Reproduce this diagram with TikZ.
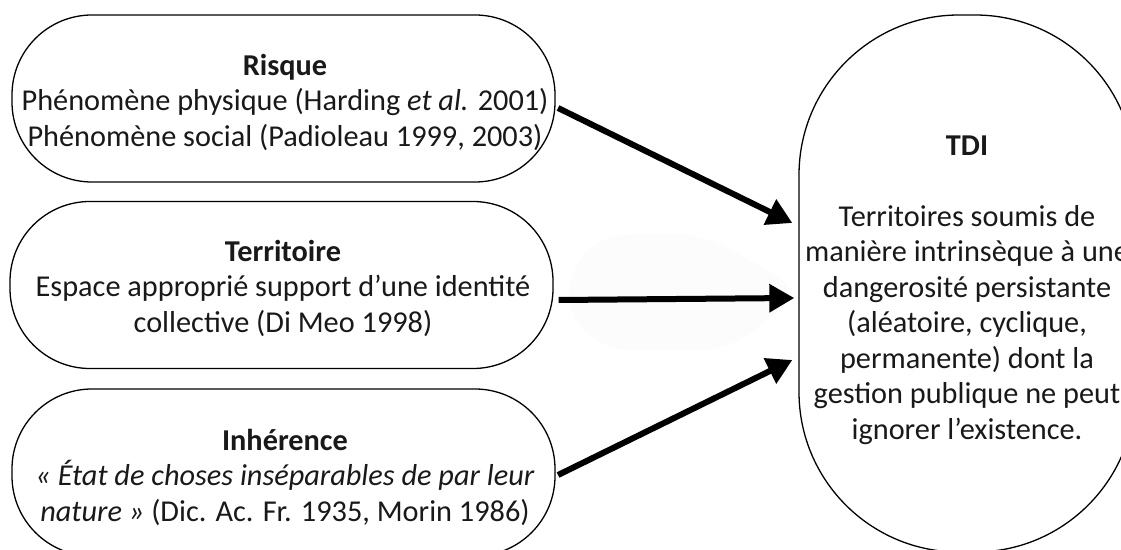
\documentclass[tikz,border=0pt]{standalone}
\usepackage{fontspec}
\setmainfont{Carlito}
\usetikzlibrary{arrows.meta,calc}
\begin{document}
\begin{tikzpicture}[x=1pt,y=1pt,
  pill/.style={draw=black, line width=1.3pt, minimum width=543pt, minimum height=167pt, rounded corners=80pt, inner sep=0pt},
  bigpill/.style={draw=black, line width=1.3pt, minimum width=336pt, minimum height=537pt, rounded corners=160pt, inner sep=0pt},
  txt/.style={align=center, text=black!90, font=\fontsize{30.3}{35.5}\selectfont, inner sep=0pt},
  arr/.style={line width=6pt, black, -{Triangle[length=25pt,width=27pt]}}]
\useasboundingbox (0,0) rectangle (1121,549);
\clip (0,0) rectangle (1121,549);
\fill[white] (0,0) rectangle (1121,549);
% faint halo around the middle arrow
\fill[black!1, rounded corners=30pt] (560,249) -- (592,313) -- (700,316) -- (803,259) -- (730,199) -- (600,199) -- cycle;
% boxes
\node[pill] (risque) at (283.5,450.5) {};
\node[pill] (terr) at (281.5,264) {};
\node[pill] (inh) at (283.5,76.5) {};
\node[bigpill] (tdi) at (967,265.5) {};
% texts
\node[txt] (risquetxt) at (285,447) {\textbf{Risque}\\Phénomène physique (Harding \textit{et al.} 2001)\\Phénomène social (Padioleau 1999, 2003)};
\node[txt] (terrtxt) at (283,261) {\textbf{Territoire}\\Espace approprié support d’une identité\\collective (Di Meo 1998)};
\node[txt] (inhtxt) at (285,72) {\textbf{Inhérence}\\\textit{«~État de choses inséparables de par leur}\\\textit{nature~»} (Dic. Ac. Fr. 1935, Morin 1986)};
\node[txt] (tditxt) at (967,259) {\textbf{TDI}\\[35.5pt]Territoires soumis de\\manière intrinsèque à une\\dangerosité persistante\\(aléatoire, cyclique,\\permanente) dont la\\gestion publique ne peut\\ignorer l’existence.};
% arrows
\coordinate (e1) at ($(tdi.west)+(-6,60.5)$);
\coordinate (e2) at ($(tdi.west)+(-4,-14.5)$);
\coordinate (e3) at ($(tdi.west)+(-6,-76.5)$);
\draw[arr] ([shift={(2.4,-9.5)}]risque.east) -- (e1);
\draw[arr] ([shift={(5,-15)}]terr.east) -- (e2);
\draw[arr] ([shift={(2.4,-2.5)}]inh.east) -- (e3);
\end{tikzpicture}
\end{document}
